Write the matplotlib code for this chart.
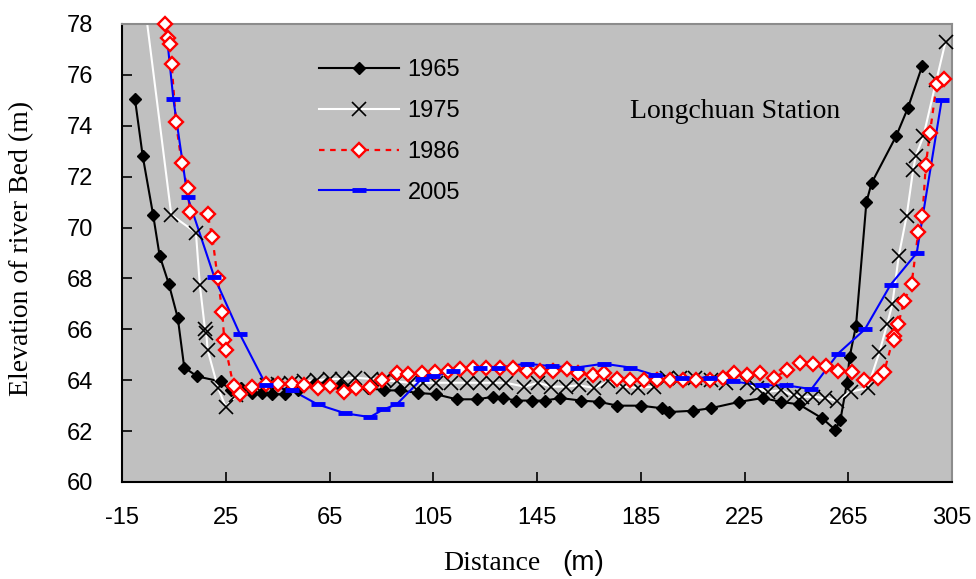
import numpy as np
import matplotlib
matplotlib.use("Agg")
import matplotlib.pyplot as plt

plt.rcParams['axes.unicode_minus'] = False
SANS = 'Liberation Sans'
SERIF = 'Liberation Serif'

# ---------------- data ----------------
x1965 = [-10, -7, -3, -0.5, 3, 6.5, 9, 14, 23, 27,
         31, 35, 39, 43, 48, 53, 59, 64, 69, 75,
         80, 86, 92, 99, 106, 114, 122, 128, 132, 137,
         143, 148, 154, 162, 169, 176, 185, 193, 196, 205,
         212, 223, 232, 239, 246, 255, 260, 262, 264.5, 265.5,
         268, 272, 274, 283.5, 288, 293.5]
y1965 = [75.05, 72.8, 70.5, 68.9, 67.8, 66.45, 64.5, 64.15, 63.95, 63.6,
         63.7, 63.5, 63.5, 63.45, 63.45, 63.6, 63.85, 63.9, 63.8, 63.75,
         63.7, 63.6, 63.6, 63.5, 63.45, 63.25, 63.25, 63.35, 63.3, 63.2,
         63.2, 63.2, 63.3, 63.2, 63.15, 63.0, 63.0, 62.9, 62.75, 62.8,
         62.9, 63.15, 63.3, 63.15, 63.05, 62.5, 62.05, 62.45, 63.9, 64.9,
         66.15, 71.0, 71.75, 73.6, 74.7, 76.35]

x1975 = [-7, 4, 13.5, 15, 17, 17.5, 18, 22, 25, 29,
         33, 37, 41, 45, 50, 55, 60, 65, 70, 75,
         81, 86, 91, 96, 101, 106, 112, 118, 123, 128,
         133, 140, 145.5, 150.5, 156, 161, 167, 172.5, 178, 184,
         190, 195, 200, 206, 212, 218, 226, 230, 234, 239,
         244, 247, 251.5, 256, 260.5, 266, 272.5, 277, 280, 282,
         284.5, 287.5, 290, 291, 294, 299, 302.5]
y1975 = [79.4, 70.5, 69.8, 67.75, 66.0, 65.85, 65.2, 63.7, 62.95, 63.4,
         63.6, 63.7, 63.8, 63.85, 63.9, 63.95, 64.0, 64.05, 64.05, 64.1,
         64.05, 64.0, 63.95, 63.9, 63.9, 63.9, 63.9, 63.9, 63.9, 63.9,
         63.9, 63.75, 63.9, 63.75, 63.75, 63.8, 63.7, 63.95, 63.75, 63.7,
         63.75, 64.1, 64.1, 64.1, 64.0, 63.9, 63.9, 63.7, 63.55, 63.6,
         63.4, 63.35, 63.35, 63.3, 63.2, 63.55, 63.7, 65.1, 66.2, 67.0,
         68.9, 70.45, 72.25, 72.8, 73.6, 75.8, 77.3]

x1986 = [1.6, 2.85, 3.5, 4.15, 5.8, 8.0, 10.3, 11.2, 18.0, 19.8,
         21.9, 23.7, 24.4, 25.1, 28.0, 30.6, 35.2, 40.5, 45.3, 50.6,
         55.3, 60.7, 65.2, 70.6, 75.2, 80.6, 85.1, 90.9, 95.4, 100.5,
         105.7, 110.8, 115.3, 120.4, 125.4, 130.7, 135.8, 141, 146.1, 151.3,
         156.4, 160.9, 166.5, 170.8, 175.7, 180.8, 186.2, 191.1, 196.3, 201.3,
         206.3, 211.7, 216.6, 220.9, 225.8, 231.0, 236.3, 241.2, 246.3, 251.3,
         256.4, 261.1, 266.6, 271.0, 276.4, 278.8, 282.6, 282.7, 284.3, 286.6,
         289.4, 292, 293.6, 294.9, 296.5, 299.1, 301.9]
y1986 = [78.0, 77.44, 77.2, 76.42, 74.13, 72.55, 71.54, 70.6, 70.52, 69.64,
         68.0, 66.67, 65.6, 65.19, 63.77, 63.45, 63.75, 63.85, 63.85, 63.85,
         63.8, 63.68, 63.77, 63.55, 63.68, 63.75, 64.0, 64.3, 64.23, 64.27,
         64.34, 64.38, 64.43, 64.47, 64.5, 64.47, 64.47, 64.38, 64.38, 64.38,
         64.43, 64.27, 64.2, 64.27, 64.04, 64.0, 64.0, 64.0, 64.0, 64.0,
         64.0, 64.0, 64.07, 64.27, 64.2, 64.27, 64.07, 64.4, 64.67, 64.63,
         64.56, 64.38, 64.32, 64.0, 64.07, 64.32, 65.74, 65.58, 66.21, 67.13,
         67.77, 69.82, 70.46, 72.46, 73.73, 75.63, 75.84]

x2005 = [0.3, 4.8, 10.3, 20.6, 30.5, 40.6, 50.6, 60.4, 71, 80.6,
         85.7, 90.9, 100.5, 105, 112.7, 123, 130, 141, 150.6, 160.3,
         170.8, 180.8, 190.5, 200.8, 211.7, 220.7, 231.8, 241, 250.8, 261.1,
         271.4, 281.3, 291.4, 301]
y2005 = [79.5, 75.05, 71.2, 68.05, 65.8, 63.8, 63.6, 63.05, 62.7, 62.55,
         62.85, 63.05, 64.05, 64.15, 64.35, 64.5, 64.5, 64.65, 64.55, 64.5,
         64.65, 64.5, 64.2, 64.1, 64.1, 63.95, 63.8, 63.8, 63.65, 65.05,
         66.0, 67.75, 69.0, 75.0]

years = ['1965', '1975', '1986', '2005']
x_ticks = [-15, 25, 65, 105, 145, 185, 225, 265, 305]
y_ticks = [60, 62, 64, 66, 68, 70, 72, 74, 76, 78]

# ---------------- figure ----------------
fig = plt.figure(figsize=(9.76, 5.79), dpi=100)
ax = fig.add_axes([122 / 976, 1 - 482 / 579, 830 / 976, 458 / 579])
ax.set_facecolor('#C0C0C0')

styles = [
    dict(color='black', lw=1.5, ls='-', marker='D', ms=6.6, mfc='black', mec='black', mew=1.0),
    dict(color='white', lw=1.5, ls='-', marker='x', ms=9.5, mfc='none', mec='black', mew=1.2),
    dict(color='red', lw=1.6, ls=(0, (2.5, 2.5)), marker='D', ms=6.8, mfc='white', mec='red', mew=1.7),
    dict(color='blue', lw=1.5, ls='-', marker='_', ms=10, mfc='blue', mec='blue', mew=3.5),
]
series = [(x1965, y1965), (x1975, y1975), (x1986, y1986), (x2005, y2005)]

handles = []
for (xs, ys), st, lab in zip(series, styles, years):
    xs = np.asarray(xs, float)
    ys = np.asarray(ys, float)
    ax.plot(xs, ys, color=st['color'], lw=st['lw'], ls=st['ls'], zorder=2)
    m = ys <= 78.05
    ax.plot(xs[m], ys[m], ls='none', marker=st['marker'], ms=st['ms'],
            mfc=st['mfc'], mec=st['mec'], mew=st['mew'], zorder=3, clip_on=False)
    h, = ax.plot([], [], color=st['color'], lw=st['lw'], ls=st['ls'], marker=st['marker'],
                 ms=st['ms'], mfc=st['mfc'], mec=st['mec'], mew=st['mew'], label=lab)
    handles.append(h)

ax.set_xlim(-15, 305)
ax.set_ylim(60, 78)
ax.set_xticks(x_ticks)
ax.set_xticklabels([str(t) for t in x_ticks])
ax.set_yticks(y_ticks)
ax.set_yticklabels([str(t) for t in y_ticks])
ax.tick_params(axis='both', direction='in', length=7, width=1.2, labelsize=17)
ax.tick_params(axis='x', pad=18)
ax.tick_params(axis='y', pad=21)
for lbl in ax.get_xticklabels() + ax.get_yticklabels():
    lbl.set_fontfamily(SANS)

for side in ['left', 'bottom']:
    ax.spines[side].set_color('black')
    ax.spines[side].set_linewidth(1.5)
for side in ['top', 'right']:
    ax.spines[side].set_color('#8C8C8C')
    ax.spines[side].set_linewidth(1.5)

leg = ax.legend(handles=handles, loc='upper left', bbox_to_anchor=(319 / 976, 1 - 59 / 579),
                bbox_transform=fig.transFigure, frameon=False, numpoints=1,
                handlelength=3.4, handletextpad=0.35, labelspacing=0.8,
                borderpad=0, borderaxespad=0, prop={'family': SANS, 'size': 17})

fig.text(630 / 976, 1 - 112 / 579, 'Longchuan Station', family=SERIF, fontsize=20,
         ha='left', va='center')
fig.text(22 / 976, 1 - 248 / 579, 'Elevation of river Bed (m)', family=SERIF, fontsize=20,
         rotation=90, ha='center', va='center')
fig.text(443 / 976, 1 - 570 / 579, 'Distance', family=SERIF, fontsize=20,
         ha='left', va='baseline')
fig.text(562 / 976, 1 - 570 / 579, '(m)', family=SANS, fontsize=20,
         ha='left', va='baseline')

fig.savefig('out.png', dpi=100)
